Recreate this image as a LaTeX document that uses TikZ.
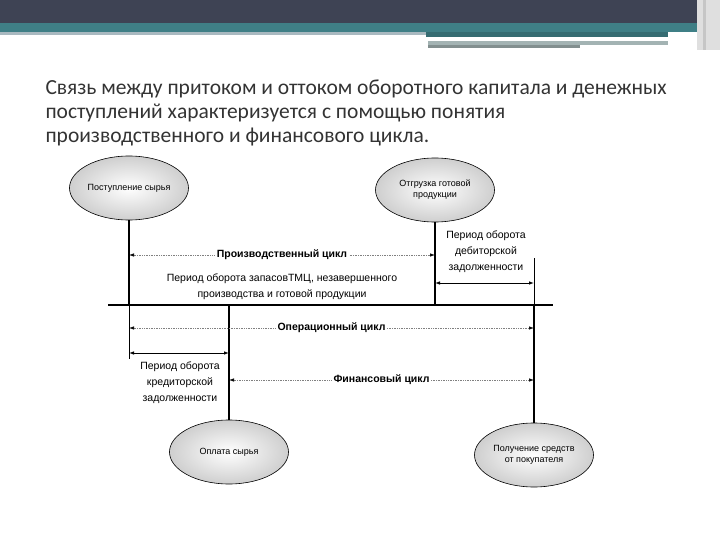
\documentclass[tikz,border=0pt]{standalone}
\usepackage{fontspec}
\setmainfont{Liberation Sans}
\newfontfamily\titlefont{Carlito}
\usetikzlibrary{arrows.meta, shapes.geometric, positioning}
\definecolor{hdrdark}{HTML}{3E4354}
\definecolor{hdrteal}{HTML}{3F7F86}
\definecolor{hdrlight}{HTML}{A9B9C0}
\definecolor{hdrgray}{HTML}{A3B3B3}
\definecolor{titletext}{HTML}{333333}

\begin{document}
\begin{tikzpicture}[x=1pt,y=-1pt]
\tikzset{
  event/.style={ellipse, draw=black, line width=0.6pt, inner color=white, outer color=gray!38,
    minimum width=119pt, minimum height=64pt, inner sep=0pt, align=center,
    font=\fontsize{9}{11}\selectfont},
  stem/.style={line width=2.6pt},
  thinstem/.style={line width=0.8pt},
  cycle/.style={densely dotted, line width=0.7pt, draw=black!50,
    {Latex[length=5pt,width=3.5pt,black]}-{Latex[length=5pt,width=3.5pt,black]}},
  period/.style={line width=0.8pt, {Latex[length=5pt,width=3.5pt]}-{Latex[length=5pt,width=3.5pt]}},
  cyclabel/.style={fill=white, inner sep=2pt, font=\bfseries\fontsize{10.5}{12}\selectfont},
  note/.style={align=center, font=\fontsize{10.5}{16}\selectfont},
  headline/.style={anchor=base west, text=titletext, font=\titlefont\fontsize{21.5}{24}\selectfont}
}
\useasboundingbox (0,0) rectangle (720,540);

% header bands
\fill[hdrdark] (0,0) rectangle (720,23);
\fill[hdrteal] (0,23) rectangle (720,32);
\fill[hdrlight] (0,32) rectangle (426,35);
\fill[hdrteal!85!black] (426,32) rectangle (668,37);
\fill[hdrgray] (428,41) rectangle (668,45);
\fill[hdrgray!80!black] (428,45) rectangle (580,48);
\fill[gray!25] (697,0) rectangle (720,50);
\fill[gray!45] (703,0) rectangle (706,50);

% title
\node[headline] (title1) at (42,95) {Связь между притоком и оттоком оборотного капитала и денежных};
\node[headline] (title2) at (42,119) {поступлений характеризуется с помощью понятия};
\node[headline] (title3) at (42,143) {производственного и финансового цикла.};

% events
\node[event] (raw) at (129,188) {Поступление сырья};
\node[event] (ship) at (435,190) {Отгрузка готовой\\продукции};
\node[event] (pay) at (229,452) {Оплата сырья};
\node[event] (recv) at (534,455) {Получение средств\\от покупателя};

% time axis
\coordinate (axL) at (108,305);
\coordinate (axR) at (553,305);
\coordinate (rawA) at (129,305);
\coordinate (rawE) at (129,359);
\coordinate (shipA) at (435,305);
\coordinate (payA) at (229,305);
\coordinate (recvT) at (534,258);
\coordinate (recvA) at (534,305);

\draw[stem] (raw) -- (rawA);
\draw[thinstem] (rawA) -- (rawE);
\draw[stem] (ship) -- (shipA);
\draw[stem] (payA) -- (pay);
\draw[thinstem] (recvT) -- (recvA);
\draw[stem] (recvA) -- (recv);
\draw[stem] (axL) -- (axR);

% cycles
\coordinate (prodL) at (129,255);
\coordinate (prodR) at (435,255);
\coordinate (operL) at (129,328);
\coordinate (operR) at (534,328);
\coordinate (finL) at (229,380);
\coordinate (finR) at (534,380);

\draw[cycle] (prodL) -- node[cyclabel] (prod) {Производственный цикл} (prodR);
\draw[cycle] (operL) -- node[cyclabel] (oper) {Операционный цикл} (operR);
\draw[cycle] (finL) -- node[cyclabel] (fin) {Финансовый цикл} (finR);

% turnover periods
\coordinate (debL) at (435,283);
\coordinate (debR) at (534,283);
\coordinate (credL) at (129,353);
\coordinate (credR) at (229,353);

\draw[period] (debL) -- (debR);
\draw[period] (credL) -- (credR);

\node[note] (stock) at (282,287) {Период оборота запасовТМЦ, незавершенного\\производства и готовой продукции};
\node[note] (debt) at (486,252) {Период оборота\\дебиторской\\задолженности};
\node[note] (credit) at (180,383) {Период оборота\\кредиторской\\задолженности};
\end{tikzpicture}
\end{document}
